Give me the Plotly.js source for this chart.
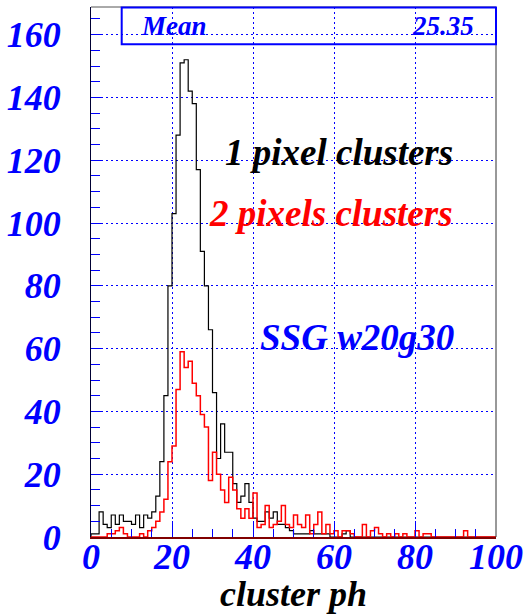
<!DOCTYPE html>
<html>
<head>
<meta charset="utf-8">
<script src="https://cdn.plot.ly/plotly-3.0.1.min.js"></script>
<style>html,body{margin:0;padding:0;background:#fff;}#chart{width:525px;height:614px;}</style>
</head>
<body>
<div id="chart"></div>
<script>
// bin low edges 0..99, width 1
var binEdges = [];
for (var i = 0; i <= 100; i++) binEdges.push(i);

// 1 pixel clusters (black)
var onePixel = [1,1,8,4,3,7,4,7,5,5, 4,7,3,7,6,8,13,24,45,80,
  103,128,151,152,142,138,117,91,80,66, 46,25,36,27,27,17,11,13,17,11,
  6,5,5,8,6,8,4,4,3,2, 1,1,1,1,2,1,1,1,1,0,
  0,0,1,2,0,0,0,0,0,0, 0,0,0,0,0,0,0,0,0,0,
  0,0,0,0,0,0,0,0,0,0, 0,0,0,0,0,0,0,0,0,0];
// 2 pixels clusters (red)
var twoPixels = [0,0,0,0,1,1,2,3,1,0, 0,0,1,0,2,3,5,8,12,24,
  29,47,59,54,56,49,45,39,35,18, 27,20,15,11,19,15,9,6,9,6,
  14,3,4,10,3,4,5,10,4,3, 7,4,3,7,1,4,8,1,4,1,
  2,0,2,2,1,0,0,4,0,2, 3,1,0,1,0,1,0,1,0,0,
  2,0,1,1,0,0,0,0,0,0, 0,0,2,0,0,0,0,0,0,0];

var xTickVals = [0,20,40,60,80,100];
var yTickVals = [0,20,40,60,80,100,120,140,160];
var statLabel = "Mean";
var statValue = "25.35";
var xTitle = "cluster ph";
var label1 = "1 pixel clusters";
var label2 = "2 pixels clusters";
var label3 = "SSG w20g30";

function stepXY(vals) {
  var xs = [binEdges[0]], ys = [0];
  for (var k = 0; k < vals.length; k++) { xs.push(binEdges[k]); ys.push(vals[k]); }
  xs.push(binEdges[vals.length]); ys.push(vals[vals.length - 1]);
  xs.push(binEdges[vals.length]); ys.push(0);
  return {x: xs, y: ys};
}

var s1 = stepXY(onePixel), s2 = stepXY(twoPixels);
var FONT = "Liberation Serif";

var traces = [
  {x: s1.x, y: s1.y, type: 'scatter', mode: 'lines', line: {shape: 'hv', color: '#000000', width: 1.2}, hoverinfo: 'skip'},
  {x: s2.x, y: s2.y, type: 'scatter', mode: 'lines', line: {shape: 'hv', color: '#ff0000', width: 1.5}, hoverinfo: 'skip'}
];

var layout = {
  width: 525, height: 614,
  margin: {l: 91, r: 29, t: 7, b: 77},
  paper_bgcolor: '#ffffff', plot_bgcolor: '#ffffff',
  showlegend: false,
  xaxis: {
    range: [0, 100], tickvals: xTickVals, ticktext: xTickVals.map(String),
    ticks: 'inside', ticklen: 16, tickcolor: '#0000ff', tickwidth: 1,
    minor: {dtick: 5, ticks: 'inside', ticklen: 8, tickcolor: '#0000ff', showgrid: false},
    showgrid: true, gridcolor: '#0000ff', griddash: '2px,3px', gridwidth: 1,
    showline: true, linecolor: '#800000', linewidth: 1.5, mirror: false,
    zeroline: false, automargin: false,
    tickfont: {family: FONT, size: 36, color: '#0000ff', weight: 'bold', style: 'italic'},
    ticklabelstandoff: -13,
    title: {text: xTitle, font: {family: FONT, size: 36, color: '#000000', weight: 'bold', style: 'italic'}, standoff: 3}
  },
  yaxis: {
    range: [0, 168.8], tickvals: yTickVals, ticktext: yTickVals.map(String),
    ticks: 'inside', ticklen: 10, tickcolor: '#0000ff', tickwidth: 1,
    minor: {dtick: 5, ticks: 'inside', ticklen: 9, tickcolor: '#0000ff', showgrid: false},
    showgrid: true, gridcolor: '#0000ff', griddash: '2px,3px', gridwidth: 1,
    showline: true, linecolor: '#000033', linewidth: 1, mirror: false,
    zeroline: false, automargin: false,
    tickfont: {family: FONT, size: 36, color: '#0000ff', weight: 'bold', style: 'italic'},
    ticklabelstandoff: 22
  },
  shapes: [
    {type: 'line', xref: 'paper', yref: 'paper', x0: 0, x1: 1, y0: 1, y1: 1, line: {color: '#555555', width: 1}},
    {type: 'line', xref: 'paper', yref: 'paper', x0: 1, x1: 1, y0: 0, y1: 1, line: {color: '#333333', width: 1}},
    {type: 'rect', xref: 'paper', yref: 'paper', x0: 0.0758, x1: 1.0, y0: 0.9296, y1: 0.999, line: {color: '#0000ff', width: 2}}
  ],
  annotations: [
    {text: statLabel, xref: 'paper', yref: 'paper', x: 0.119, y: 0.964, xanchor: 'left', yanchor: 'middle', showarrow: false,
     font: {family: FONT, size: 27, color: '#0000ff', weight: 'bold', style: 'italic'}},
    {text: statValue, xref: 'paper', yref: 'paper', x: 0.9506, y: 0.964, xanchor: 'right', yanchor: 'middle', showarrow: false,
     font: {family: FONT, size: 27, color: '#0000ff', weight: 'bold', style: 'italic'}},
    {text: label1, xref: 'paper', yref: 'paper', x: 0.8988, y: 0.7264, xanchor: 'right', yanchor: 'middle', showarrow: false,
     font: {family: FONT, size: 37, color: '#000000', weight: 'bold', style: 'italic'}},
    {text: label2, xref: 'paper', yref: 'paper', x: 0.8988, y: 0.611, xanchor: 'right', yanchor: 'middle', showarrow: false,
     font: {family: FONT, size: 37, color: '#ff0000', weight: 'bold', style: 'italic'}},
    {text: label3, xref: 'paper', yref: 'paper', x: 0.901, y: 0.377, xanchor: 'right', yanchor: 'middle', showarrow: false,
     font: {family: FONT, size: 37, color: '#0000ff', weight: 'bold', style: 'italic'}}
  ]
};

Plotly.newPlot('chart', traces, layout, {staticPlot: true, displayModeBar: false});
</script>
</body>
</html>
